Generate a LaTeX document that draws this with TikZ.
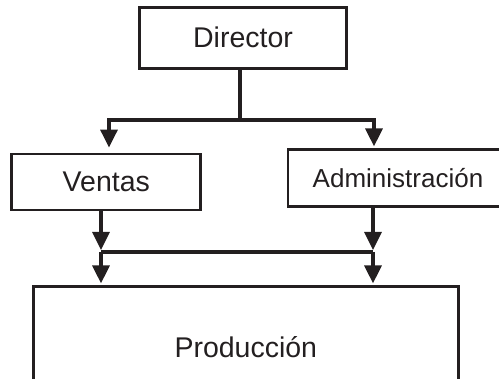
\documentclass[tikz,border=0pt]{standalone}
\usepackage{fontspec}
\setmainfont{Liberation Sans}
\usetikzlibrary{positioning}
\usetikzlibrary{arrows.meta}
\definecolor{ink}{RGB}{35,31,32}
\tikzset{
    orgBox/.style={draw=ink, text=ink, line width=2.8pt, inner sep=0pt,
		font=\fontsize{28.5}{30}\selectfont},
    orgLink/.style={draw=ink, line width=3.2pt},
    orgArrow/.style={orgLink, -{Triangle[width=17pt,length=18pt]}, shorten >=2pt}
}
\begin{document}
\begin{tikzpicture}[x=1pt,y=-1pt]
			\useasboundingbox (0,0) rectangle (499,379);
			% boxes
			\node[orgBox, minimum width=207pt, minimum height=61pt] (director) at(243,37.8) {Director};
			\node[orgBox, minimum width=189pt, minimum height=56pt] (ventas) at(106.3,182) {Ventas};
			\node[orgBox, minimum width=220pt, minimum height=57pt, font=\fontsize{26}{28}\selectfont] (admin) at(398,178.3) {Administración};
			\node[orgBox, minimum width=425pt, minimum height=120pt] (produccion) at(245.8,346.8) {Producción};
			% junction points
			\coordinate (topSplit) at(240,120);
			\coordinate (leftTop) at(109,120);
			\coordinate (rightTop) at(374,120);
			\coordinate (leftLow) at(101,252);
			\coordinate (rightLow) at(373,252);
			% director to ventas / administracion
			\draw[orgLink] (director.south -| topSplit) -- (topSplit);
			\draw[orgArrow, shorten >=5pt] (topSplit) -| (leftTop |- ventas.north);
			\draw[orgArrow] (topSplit) -| (rightTop |- admin.north);
			% ventas / administracion to produccion
			\draw[orgArrow] (ventas.south -| leftLow) -- (leftLow);
			\draw[orgArrow] (admin.south -| rightLow) -- (rightLow);
			\draw[orgLink] (leftLow) -- (rightLow);
			\draw[orgArrow] (leftLow) -- (leftLow |- produccion.north);
			\draw[orgArrow] (rightLow) -- (rightLow |- produccion.north);
	\end{tikzpicture}
\end{document}
